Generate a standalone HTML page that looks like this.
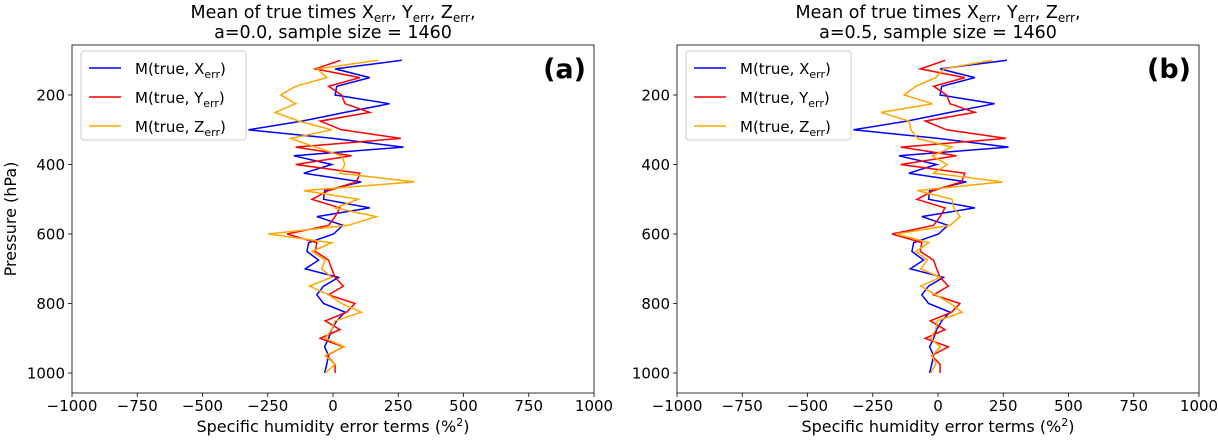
<!DOCTYPE html>
<html><head><meta charset="utf-8"><style>
body{margin:0;background:#fff;}
svg{display:block;font-family:"DejaVu Sans","Liberation Sans",sans-serif;}
</style></head><body>
<svg id="chart" width="1218" height="440" viewBox="0 0 1218 440"></svg>
<script>
const levels=[100,125,150,175,200,225,250,275,300,325,350,375,400,425,450,475,500,525,550,575,600,625,650,675,700,725,750,775,800,825,850,875,900,925,950,975,1000];
const xErrA=[264,8,141,14,8,217,46,-119,-324,0,270,-150,-5,-112,108,-32,-36,141,-62,38,2,-93,-100,-55,-106,21,-36,-62,-36,46,14,-5,-17,-32,-17,-24,-32];
const yErrA=[28,-68,103,-17,33,46,141,-49,33,260,-143,71,-143,103,90,-17,-81,27,8,-17,-176,-62,-68,-17,-5,8,40,-17,84,52,-30,27,-49,40,-24,8,8];
const zErrA=[173,-60,-24,-143,-200,-143,-222,-131,-5,-162,-68,33,46,27,312,-112,97,8,166,59,-248,-5,-81,-30,-43,-5,-90,-17,33,109,8,-5,-30,43,-30,8,-30];
const xErrB=[264,8,141,14,8,217,46,-119,-324,0,270,-150,-5,-112,108,-32,-36,141,-62,38,2,-93,-100,-55,-106,21,-36,-62,-36,46,14,-5,-17,-32,-17,-24,-32];
const yErrB=[28,-68,103,-17,33,46,141,-49,33,260,-143,71,-143,103,90,-17,-81,27,8,-17,-176,-62,-68,-17,-5,8,40,-17,84,52,-30,27,-49,40,-24,8,8];
const zErrB=[206,22,-9,-85,-130,-22,-218,-111,-104,-79,54,-22,35,-17,247,-79,54,60,85,47,-161,-35,-85,-41,-66,9,-66,-9,47,92,-3,-9,-28,9,-22,-9,-28];
const xTicks=[-1000,-750,-500,-250,0,250,500,750,1000];
const yTicks=[200,400,600,800,1000];
const panels=[
 {id:'a',left:72,right:594,aval:'0.0',series:[xErrA,yErrA,zErrA]},
 {id:'b',left:677,right:1199,aval:'0.5',series:[xErrB,yErrB,zErrB]}
];
const colors=['#0000ff','#ff0000','#ffa500'];
const names=['X','Y','Z'];
const plotTop=45,plotBottom=393;
const NS='http://www.w3.org/2000/svg';
const svg=document.getElementById('chart');
function el(tag,attrs,parent){const e=document.createElementNS(NS,tag);for(const k in attrs)e.setAttribute(k,attrs[k]);(parent||svg).appendChild(e);return e;}
function yScale(p){return 95+(p-200)*(373-95)/800;}
panels.forEach(P=>{
 const xScale=v=>P.left+(v+1000)*(P.right-P.left)/2000;
 const g=el('g',{});
 
 
 const t=el('text',{x:(P.left+P.right)/2,y:18,'text-anchor':'middle','font-size':17.5},g);
 
 
 t.innerHTML='Mean of  true times  X<tspan font-size="12" dy="4">err</tspan><tspan dy="-4">, Y</tspan><tspan font-size="12" dy="4">err</tspan><tspan dy="-4">, Z</tspan><tspan font-size="12" dy="4">err</tspan><tspan dy="-4">,</tspan>';
 const t2=el('text',{x:(P.left+P.right)/2,y:38,'text-anchor':'middle','font-size':17.5},g);
 
 
 t2.textContent='a='+P.aval+', sample size = 1460';
 P.series.forEach((s,i)=>{
  const pts=s.map((v,k)=>xScale(v).toFixed(1)+','+yScale(levels[k]).toFixed(1)).join(' ');
  const pl=el('polyline',{points:pts,fill:'none',stroke:colors[i],'stroke-width':1.5},g);
  
  
 });
 const fr=el('rect',{x:P.left,y:plotTop,width:P.right-P.left,height:plotBottom-plotTop,fill:'none',stroke:'#000','stroke-width':0.8},g);
 
 
 xTicks.forEach(v=>{
  const x=xScale(v);
  el('line',{x1:x,x2:x,y1:plotBottom,y2:plotBottom+4,stroke:'#000','stroke-width':0.8},g);
  const tl=el('text',{x:x,y:plotBottom+18,'text-anchor':'middle','font-size':15},g);
  
  
  tl.textContent=(v<0?'\u2212'+(-v):v);
 });
 yTicks.forEach(v=>{
  const y=yScale(v);
  el('line',{x1:P.left-4,x2:P.left,y1:y,y2:y,stroke:'#000','stroke-width':0.8},g);
  const tl=el('text',{x:P.left-7,y:y+5.5,'text-anchor':'end','font-size':15},g);
  
  
  tl.textContent=v;
 });
 const xl=el('text',{x:(P.left+P.right)/2,y:432,'text-anchor':'middle','font-size':16},g);
 
 
 xl.innerHTML='Specific  humidity error terms (%<tspan font-size="11" dy="-6">2</tspan><tspan dy="6">)</tspan>';
 const pl=el('text',{x:P.right-8,y:78,'text-anchor':'end','font-size':27,'font-weight':'bold'},g);
 
 
 pl.textContent='('+P.id+')';
 const lg=el('g',{},g);
 
 
 el('rect',{x:P.left+9,y:51,width:165,height:89,rx:3,fill:'#fff','fill-opacity':0.8,stroke:'#ccc','stroke-width':1},lg);
 names.forEach((n,i)=>{
  const y=68+i*29;
  const e=el('g',{},lg);
  
  
  el('line',{x1:P.left+17,x2:P.left+49,y1:y,y2:y,stroke:colors[i],'stroke-width':1.5},e);
  const tx=el('text',{x:P.left+63,y:y+6,'font-size':15},e);
  tx.innerHTML='M(true, '+n+'<tspan font-size="11" dy="4">err</tspan><tspan dy="-4">)</tspan>';
 });
});
const yl=el('text',{x:0,y:0,'text-anchor':'middle','font-size':16,transform:'translate(16,219) rotate(-90)'});


yl.textContent='Pressure (hPa)';
</script>
</body></html>
